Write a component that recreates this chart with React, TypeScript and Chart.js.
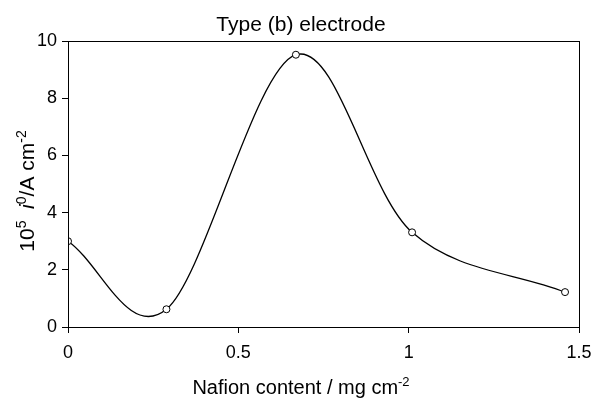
import React, { useEffect, useRef } from "react";
import { Chart, registerables } from "chart.js";

Chart.register(...registerables);

const chartTitle = "Type (b) electrode";
const nafionContent = [0, 0.289, 0.669, 1.01, 1.459];
const exchangeCurrent = [3.0, 0.62, 9.52, 3.31, 1.22];
const xTickValues = [0, 0.5, 1, 1.5];
const yTickValues = [0, 2, 4, 6, 8, 10];

type Part = { text: string; sup?: boolean; italic?: boolean };

const xTitleParts: Part[] = [
  { text: "Nafion content / mg cm" },
  { text: "-2", sup: true },
];
const yTitleParts: Part[] = [
  { text: "10" },
  { text: "5", sup: true },
  { text: "  " },
  { text: "i", italic: true },
  { text: "0", sup: true },
  { text: "/A cm" },
  { text: "-2", sup: true },
];

const FAMILY = '"Liberation Sans", Arial, sans-serif';

function fontFor(p: Part, base: number, sup: number) {
  return `${p.italic ? "italic " : ""}${p.sup ? sup : base}px ${FAMILY}`;
}

function drawRich(ctx: CanvasRenderingContext2D, parts: Part[], cx: number, baseline: number, base: number, sup: number) {
  let total = 0;
  const widths = parts.map((p) => {
    ctx.font = fontFor(p, base, sup);
    const w = ctx.measureText(p.text).width;
    total += w;
    return w;
  });
  let x = cx - total / 2;
  ctx.textAlign = "left";
  ctx.textBaseline = "alphabetic";
  parts.forEach((p, i) => {
    ctx.font = fontFor(p, base, sup);
    ctx.fillText(p.text, x, p.sup ? baseline - base * 0.4 : baseline);
    x += widths[i];
  });
}

// Smooth curve (Catmull-Rom style Bezier) built from the points' scale positions
const smoothPlugin = {
  id: "smoothCurve",
  beforeDatasetDraw(chart: any, args: any) {
    const meta = args.meta;
    const pts = meta.data;
    const n = pts.length;
    for (let i = 0; i < n; i++) {
      const p = pts[i];
      const prev = pts[Math.max(i - 1, 0)];
      const next = pts[Math.min(i + 1, n - 1)];
      let tx: number, ty: number;
      if (i === 0) {
        tx = (next.x - p.x) / 3;
        ty = (next.y - p.y) / 3;
      } else if (i === n - 1) {
        tx = (p.x - prev.x) / 3;
        ty = (p.y - prev.y) / 3;
      } else {
        tx = (next.x - prev.x) / 6;
        ty = (next.y - prev.y) / 6;
      }
      p.cp1x = p.x - tx;
      p.cp1y = p.y - ty;
      p.cp2x = p.x + tx;
      p.cp2y = p.y + ty;
    }
    meta.dataset._pointsUpdated = true;
    meta.dataset._path = undefined;
  },
};

const textPlugin = {
  id: "textPlugin",
  afterDraw(chart: any) {
    const ctx: CanvasRenderingContext2D = chart.ctx;
    const a = chart.chartArea;
    ctx.save();
    ctx.strokeStyle = "#000";
    ctx.lineWidth = 1;
    ctx.strokeRect(Math.round(a.left) + 0.5, Math.round(a.top) + 0.5, Math.round(a.right - a.left), Math.round(a.bottom - a.top));
    ctx.fillStyle = "#000";
    ctx.font = `21px ${FAMILY}`;
    ctx.textAlign = "center";
    ctx.textBaseline = "alphabetic";
    ctx.fillText(chartTitle, 301, 31);
    drawRich(ctx, xTitleParts, 301, 394, 20, 13);
    ctx.save();
    ctx.translate(34, 191);
    ctx.rotate(-Math.PI / 2);
    drawRich(ctx, yTitleParts, 0, 0, 21, 14);
    ctx.restore();
    ctx.restore();
  },
};

export default function App() {
  const ref = useRef<HTMLCanvasElement | null>(null);
  useEffect(() => {
    if (!ref.current) return;
    const chart = new Chart(ref.current, {
      type: "line",
      data: {
        datasets: [
          {
            data: nafionContent.map((x, i) => ({ x, y: exchangeCurrent[i] })),
            borderColor: "#000",
            borderWidth: 1.3,
            tension: 0.4,
            pointRadius: 3.5,
            pointBackgroundColor: "#fff",
            pointBorderColor: "#000",
            pointBorderWidth: 1,
            fill: false,
          },
        ],
      },
      options: {
        responsive: false,
        animation: false,
        layout: { padding: { left: 0, right: 15, top: 41, bottom: 0 } },
        plugins: { legend: { display: false }, title: { display: false }, tooltip: { enabled: false } },
        scales: {
          x: {
            type: "linear",
            min: 0,
            max: 1.5,
            afterBuildTicks: (s: any) => {
              s.ticks = xTickValues.map((v) => ({ value: v }));
            },
            afterFit: (s: any) => {
              s.height = 71;
              s.paddingLeft = 0;
              s.paddingRight = 0;
            },
            ticks: {
              color: "#000",
              font: { family: FAMILY, size: 18 },
              padding: 9,
              maxRotation: 0,
              callback: (v: any) => String(v),
            },
            grid: { drawOnChartArea: false, drawTicks: true, tickLength: 6, color: "#000" },
            border: { display: true, color: "#000", width: 1 },
          },
          y: {
            min: 0,
            max: 10,
            afterBuildTicks: (s: any) => {
              s.ticks = yTickValues.map((v) => ({ value: v }));
            },
            afterFit: (s: any) => {
              s.width = 68;
              s.paddingTop = 0;
              s.paddingBottom = 0;
            },
            ticks: {
              color: "#000",
              font: { family: FAMILY, size: 18 },
              padding: 5,
              callback: (v: any) => String(v),
            },
            grid: { drawOnChartArea: false, drawTicks: true, tickLength: 6, color: "#000" },
            border: { display: true, color: "#000", width: 1 },
          },
        },
      },
      plugins: [smoothPlugin, textPlugin],
    } as any);
    return () => chart.destroy();
  }, []);
  return (
    <div style={{ position: "absolute", left: 0, top: 0, width: 594, height: 398, background: "#fff" }}>
      <canvas ref={ref} width={594} height={398} style={{ display: "block" }} />
    </div>
  );
}
